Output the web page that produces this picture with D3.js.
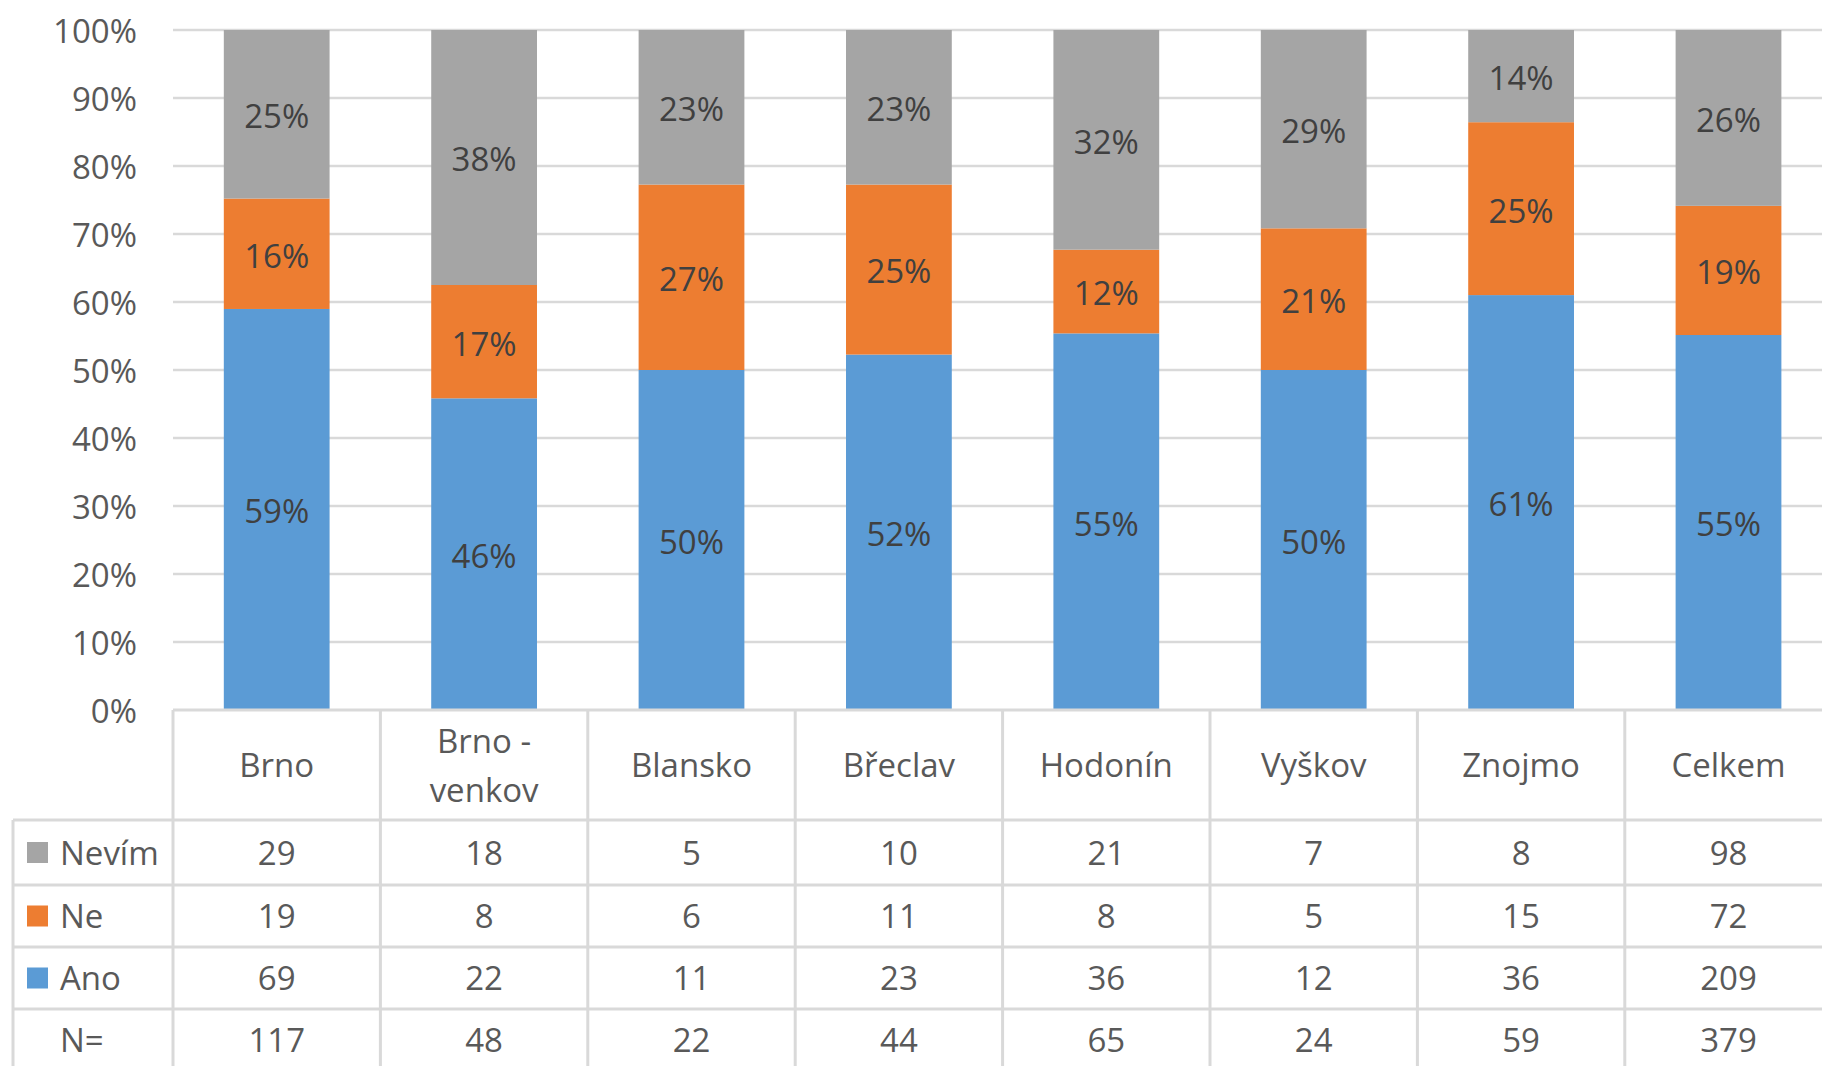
<!DOCTYPE html>
<html><head><meta charset="utf-8">
<script src="https://cdn.jsdelivr.net/npm/d3@7"></script>
<style>
html,body{margin:0;padding:0;background:#fff;}
svg{display:block;font-family:"Open Sans",sans-serif;}
</style></head>
<body>
<svg id="chart" width="1822" height="1066"></svg>
<script>
const categories = ["Brno", "Brno - venkov", "Blansko", "Břeclav", "Hodonín", "Vyškov", "Znojmo", "Celkem"];
const categoryLines = [["Brno"], ["Brno -", "venkov"], ["Blansko"], ["Břeclav"], ["Hodonín"], ["Vyškov"], ["Znojmo"], ["Celkem"]];
const seriesNames = ["Ano", "Ne", "Nevím"];
const ano   = [69, 22, 11, 23, 36, 12, 36, 209];
const ne    = [19, 8, 6, 11, 8, 5, 15, 72];
const nevim = [29, 18, 5, 10, 21, 7, 8, 98];
const totals = [117, 48, 22, 44, 65, 24, 59, 379];
const colors = ["#5b9bd5", "#ed7d31", "#a5a5a5"];
const yTicks = [0, 0.1, 0.2, 0.3, 0.4, 0.5, 0.6, 0.7, 0.8, 0.9, 1.0];

(function () {
const rows = categories.map((c, i) => ({cat: c, Ano: ano[i], Ne: ne[i], "Nevím": nevim[i]}));

const svg = d3.select("#chart");
const W = 1822, H = 1066;
const pLeft = 173, colW = 207.4, pTop = 30, pBottom = 710;
const fs = 33;
const gridColor = "#d9d9d9";

const x = d3.scaleBand().domain(categories)
  .range([pLeft, pLeft + colW * categories.length])
  .paddingInner(0.49).paddingOuter(0.245);
const y = d3.scaleLinear().domain([0, 1]).range([pBottom, pTop]);
const color = d3.scaleOrdinal().domain(seriesNames).range(colors);

// gridlines
svg.append("g").selectAll("line").data(yTicks.slice(1)).join("line")
  .attr("x1", pLeft).attr("x2", W)
  .attr("y1", d => y(d)).attr("y2", d => y(d))
  .attr("stroke", gridColor).attr("stroke-width", 2.5);

// y axis labels
const yAxis = d3.axisLeft(y).tickValues(yTicks).tickFormat(d3.format(".0%")).tickSize(0).tickPadding(0);
const yg = svg.append("g").attr("transform", `translate(137,0)`).call(yAxis);
yg.select(".domain").remove();
yg.selectAll("text").attr("font-size", fs).attr("fill", "#595959")
  .attr("font-family", "Open Sans").attr("dy", "0.37em");

// stacked bars
const stack = d3.stack().keys(seriesNames).offset(d3.stackOffsetExpand);
const series = stack(rows);
const sg = svg.append("g").selectAll("g").data(series).join("g")
  .attr("fill", d => color(d.key));
sg.selectAll("rect").data(d => d).join("rect")
  .attr("x", d => x(d.data.cat))
  .attr("width", x.bandwidth())
  .attr("y", d => y(d[1]))
  .attr("height", d => y(d[0]) - y(d[1]));

// data labels
const pf = d3.format(".0%");
svg.append("g").selectAll("g").data(series).join("g")
  .selectAll("text").data(d => d).join("text")
  .attr("x", d => x(d.data.cat) + x.bandwidth() / 2)
  .attr("y", d => (y(d[0]) + y(d[1])) / 2)
  .attr("dy", "0.42em")
  .attr("text-anchor", "middle")
  .attr("font-size", fs).attr("fill", "#404040")
  .text(d => pf(d[1] - d[0]));

// data table
const rowEdges = [pBottom, 820, 885, 947, 1009, 1071];
const tg = svg.append("g");
const colEdges = d3.range(categories.length + 1).map(i => pLeft + i * colW);
tg.append("line").attr("x1", pLeft).attr("x2", W).attr("y1", rowEdges[0]).attr("y2", rowEdges[0])
  .attr("stroke", gridColor).attr("stroke-width", 3);
rowEdges.slice(1, 5).forEach(yy => {
  tg.append("line").attr("x1", 13).attr("x2", W).attr("y1", yy).attr("y2", yy)
    .attr("stroke", gridColor).attr("stroke-width", 3);
});
colEdges.forEach(xx => {
  tg.append("line").attr("x1", xx).attr("x2", xx).attr("y1", rowEdges[0]).attr("y2", H)
    .attr("stroke", gridColor).attr("stroke-width", 3);
});
tg.append("line").attr("x1", 13).attr("x2", 13).attr("y1", rowEdges[1]).attr("y2", H)
  .attr("stroke", gridColor).attr("stroke-width", 3);

// category headers
const headerMid = (rowEdges[0] + rowEdges[1]) / 2;
categories.forEach((c, i) => {
  const lines = categoryLines[i];
  const lh = 49;
  lines.forEach((ln, j) => {
    tg.append("text")
      .attr("x", x(c) + x.bandwidth() / 2)
      .attr("y", headerMid + (j - (lines.length - 1) / 2) * lh)
      .attr("dy", "0.37em").attr("text-anchor", "middle")
      .attr("font-size", fs).attr("fill", "#595959")
      .text(ln);
  });
});

// table rows
const tableRows = [
  {label: "Nevím", key: "Nevím", values: nevim},
  {label: "Ne", key: "Ne", values: ne},
  {label: "Ano", key: "Ano", values: ano},
  {label: "N=", key: null, values: totals}
];
tableRows.forEach((r, ri) => {
  const cy = (rowEdges[ri + 1] + rowEdges[ri + 2]) / 2;
  if (r.key) {
    tg.append("rect").attr("x", 27).attr("y", cy - 10.5).attr("width", 21).attr("height", 21)
      .attr("fill", color(r.key));
  }
  tg.append("text").attr("x", 60).attr("y", cy).attr("dy", "0.37em")
    .attr("font-size", fs).attr("fill", "#595959").text(r.label);
  r.values.forEach((v, i) => {
    tg.append("text")
      .attr("x", x(categories[i]) + x.bandwidth() / 2)
      .attr("y", cy).attr("dy", "0.37em").attr("text-anchor", "middle")
      .attr("font-size", fs).attr("fill", "#595959").text(v);
  });
});
})();
</script>
</body></html>
